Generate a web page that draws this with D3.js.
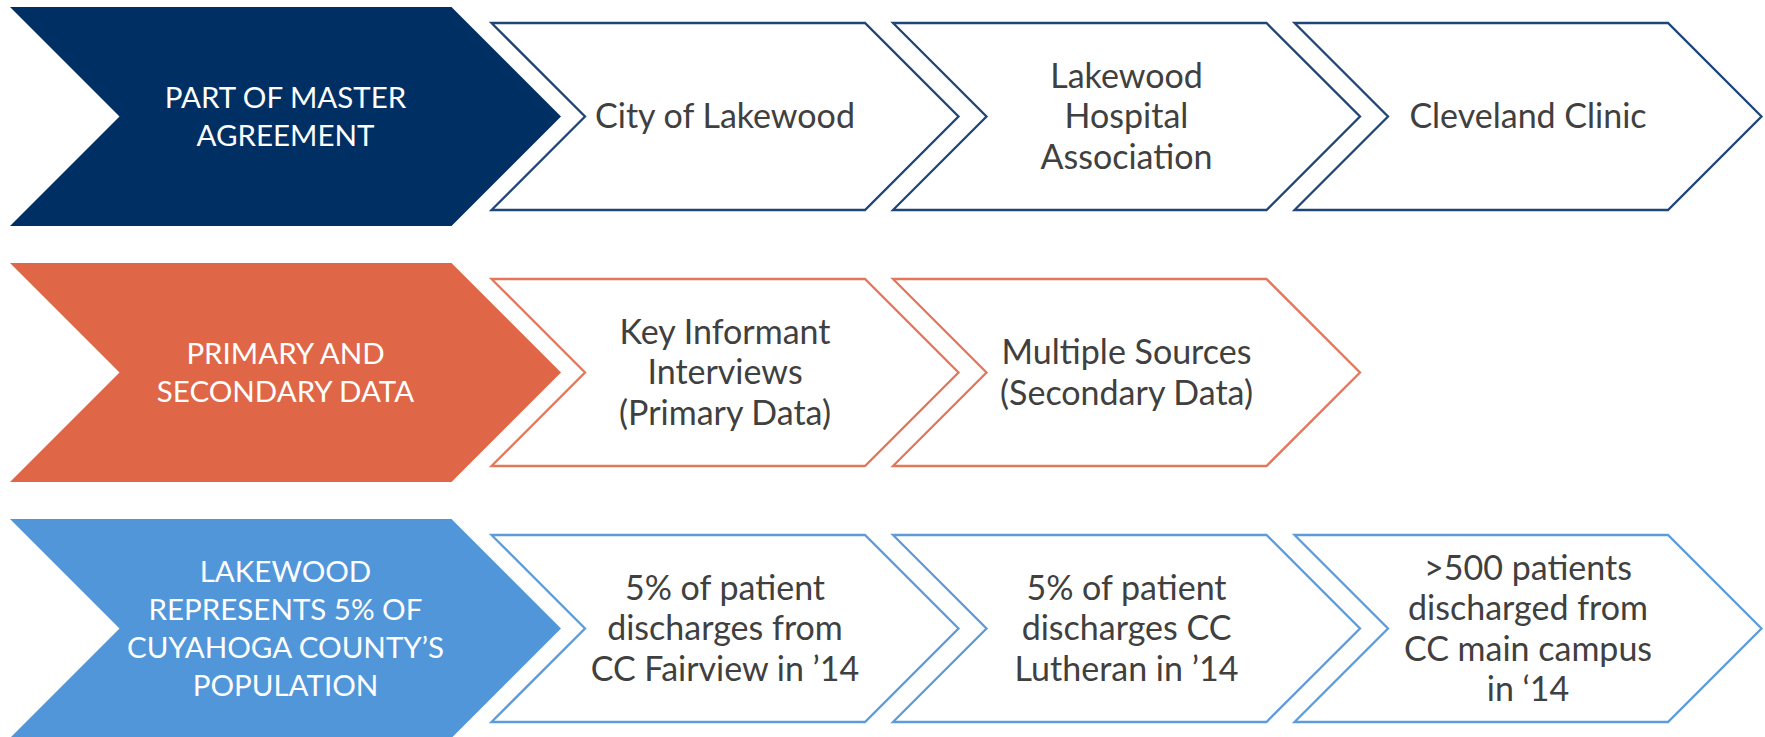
<!DOCTYPE html>
<html>
<head>
<meta charset="utf-8">
<script src="https://cdn.jsdelivr.net/npm/d3@7"></script>
<style>
  html, body { margin: 0; padding: 0; background: #fff; }
  svg { display: block; }
</style>
</head>
<body>
<div id="chart"></div>
<script>
// row headers (filled chevrons)
const stageLines = [
  ["PART OF MASTER", "AGREEMENT"],
  ["PRIMARY AND", "SECONDARY DATA"],
  ["LAKEWOOD", "REPRESENTS 5% OF", "CUYAHOGA COUNTY\u2019S", "POPULATION"]
];
const stageFill = ["#003063", "#DF6747", "#5296DA"];
const stageStroke = ["#1F4677", "#E4775A", "#5C9CDB"];

// step boxes (outlined chevrons), one list per row
const stepLines = [
  [["City of Lakewood"], ["Lakewood", "Hospital", "Association"], ["Cleveland Clinic"]],
  [["Key Informant", "Interviews", "(Primary Data)"], ["Multiple Sources", "(Secondary Data)"]],
  [["5% of patient", "discharges from", "CC Fairview in \u201914"],
   ["5% of patient", "discharges CC", "Lutheran in \u201914"],
   [">500 patients", "discharged from", "CC main campus", "in \u201814"]]
];

const width = 1765, height = 737;
const font = "Lato, Carlito, Calibri, sans-serif";

const svg = d3.select("#chart").append("svg")
    .attr("width", width)
    .attr("height", height)
    .attr("viewBox", [0, 0, width, height]);

const y = d3.scaleBand()
    .domain(d3.range(stageLines.length))
    .range([7, 738])
    .paddingInner(0.1445);

const x = d3.scalePoint()
    .domain(d3.range(3))
    .range([491.5, 1294.5]);

const headLeft = 10, headWidth = 551;
const stepWidth = 467, inset = 16;

function chevron(x0, w, y0, h) {
  const d = h / 2, ym = y0 + h / 2;
  return d3.line()([
    [x0, y0], [x0 + w - d, y0], [x0 + w, ym],
    [x0 + w - d, y0 + h], [x0, y0 + h], [x0 + d, ym]
  ]) + "Z";
}

function addText(g, lines, cx, cy, size, lh, color) {
  const t = g.append("text")
      .attr("text-anchor", "middle")
      .attr("font-family", font)
      .attr("font-size", size)
      .attr("fill", color);
  const off = (lines.length - 1) / 2;
  t.selectAll("tspan")
    .data(lines)
    .join("tspan")
      .attr("x", cx)
      .attr("y", (d, i) => cy + (i - off) * lh)
      .attr("dy", "0.35em")
      .text(d => d);
  return t;
}

const rows = svg.selectAll("g.row")
  .data(stageLines)
  .join("g")
    .attr("class", "row");

rows.each(function(lines, r) {
  const g = d3.select(this);
  const top = y(r), h = y.bandwidth();
  const d = h / 2;

  g.append("path")
      .attr("d", chevron(headLeft, headWidth, top, h))
      .attr("fill", stageFill[r]);

  addText(g, lines, headLeft + d + (headWidth - 2 * d) / 2, top + h / 2, 29.5, 38, "#fff");

  stepLines[r].forEach((s, i) => {
    const sh = h - 2 * inset, sd = sh / 2;
    g.append("path")
        .attr("d", chevron(x(i), stepWidth, top + inset, sh))
        .attr("fill", "#fff")
        .attr("stroke", stageStroke[r])
        .attr("stroke-width", 2.3);
    addText(g, s, x(i) + sd + (stepWidth - 2 * sd) / 2, top + h / 2, 34, 40.5, "#404040");
  });
});
</script>
</body>
</html>
